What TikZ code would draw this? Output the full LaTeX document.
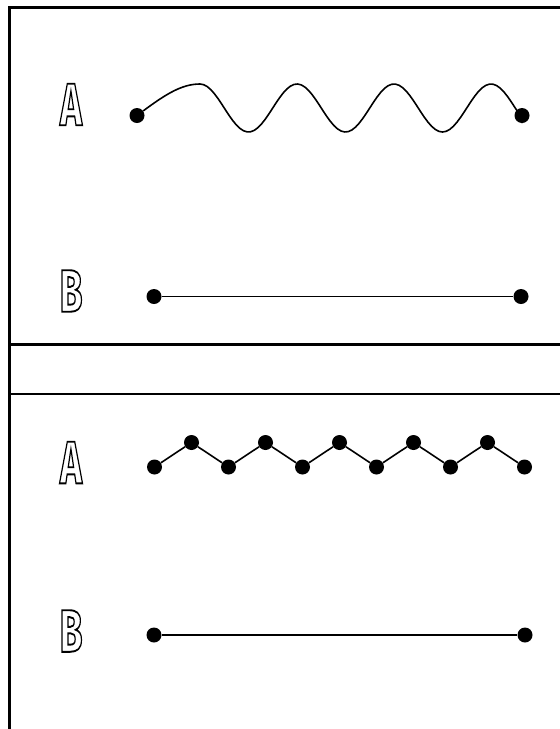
\documentclass[tikz,border=0pt]{standalone}
\usepackage{fontspec}
\usepackage{graphicx}
\usepackage{tikz}
\usetikzlibrary{positioning}

\newfontfamily\lblfont{Fira Sans}
\newcommand{\hollow}[1]{\scalebox{0.62}[1]{\special{pdf:literal 1 Tr 1.9 w}#1\special{pdf:literal 0 Tr}}}

\begin{document}
\begin{tikzpicture}[
  x=1pt, y=-1pt,
  frame/.style={line width=2.8pt, black},
  wire/.style={line width=1.6pt, black},
  dot/.style={circle, fill=black, inner sep=0pt, minimum size=15pt},
  lbl/.style={font=\lblfont\bfseries\fontsize{60}{62}\selectfont, inner sep=0pt}
]
\useasboundingbox (0,0) rectangle (560,729);

% --- frame and divider ---
\draw[frame] (9.5,729) -- (9.5,7.5) -- (560,7.5);
\draw[frame] (9.5,344.5) -- (560,344.5);
\draw[frame] (9.5,394) -- (560,394);

% --- upper panel ---
\node[lbl] (uA) at (71,104.5) {\hollow{A}};
\node[dot] (wA0) at (137,115.5) {};
\node[dot] (wA1) at (522,115.5) {};
\draw[wire] (wA0) .. controls (166,94) and (182,84) .. (200,84)
  -- plot[domain=200:522, samples=90] (\x, {108-24*cos(3.7113*(\x-200))})
  -- (wA1);

\node[lbl] (uB) at (71,291) {\hollow{B}};
\node[dot] (sB0) at (154,296.5) {};
\node[dot] (sB1) at (521,296.5) {};
\draw[wire] (sB0) -- (sB1);

% --- lower panel ---
\node[lbl] (lA) at (71,462.5) {\hollow{A}};
\foreach \i in {0,...,10} {
  \pgfmathsetmacro{\zx}{154.5+37*\i}
  \pgfmathsetmacro{\zy}{isodd(\i) ? 442.5 : 467}
  \node[dot] (z\i) at (\zx,\zy) {};
}
\foreach \from/\to in {z0/z1, z1/z2, z2/z3, z3/z4, z4/z5, z5/z6, z6/z7, z7/z8, z8/z9, z9/z10}
  \draw[wire] (\from) -- (\to);

\node[lbl] (lB) at (71,631) {\hollow{B}};
\node[dot] (tB0) at (154,635) {};
\node[dot] (tB1) at (525,635) {};
\draw[wire] (tB0) -- (tB1);

\end{tikzpicture}
\end{document}
